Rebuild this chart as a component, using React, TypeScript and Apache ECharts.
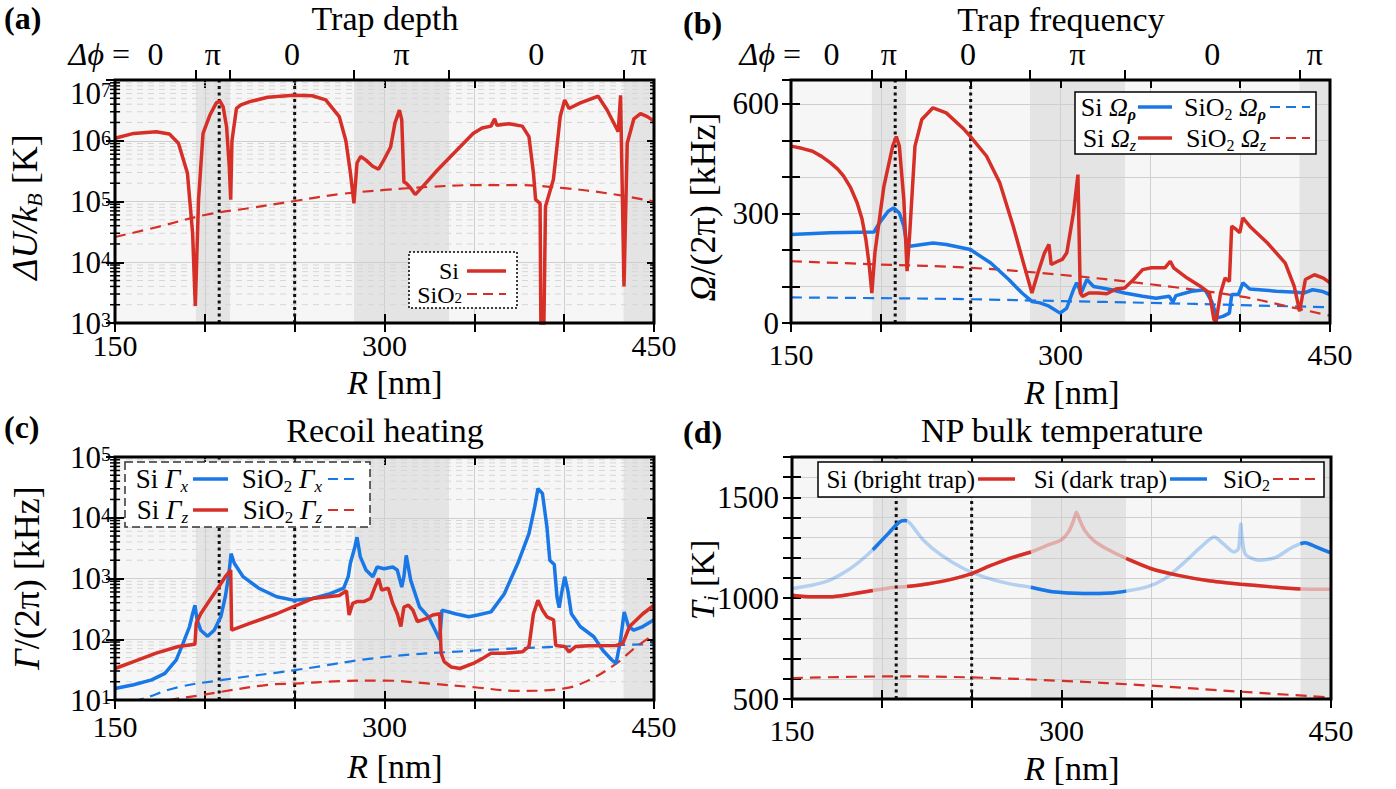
import React, { useEffect, useRef } from 'react';
import * as echarts from 'echarts';

const F = 'Liberation Serif';
const RED = '#d62f27';
const BLUE = '#1a78e6';
const LIGHT_BG = '#f6f6f6';
const DARK_BG = '#e4e4e4';
const GRID_C = '#cfcfcf';
const MINOR_C = '#d6d6d6';

// phase regions (Δφ) along R [nm]
const bandStart = [150, 195, 214, 283, 336, 433];
const bandEnd = [195, 214, 283, 336, 433, 450];
const bandShade = [0, 1, 0, 1, 0, 1];
const phaseBounds = [195, 214, 283, 336, 433];
const phaseCenters = [172.5, 204.5, 248.5, 309.5, 384.5, 441.5];
const phaseLabels = ['0', 'π', '0', 'π', '0', 'π'];
const dottedR = [208, 250];
const xTickLabels = [150, 300, 450];
const minorMult = [2, 3, 4, 5, 6, 7, 8, 9];

// (a) trap depth [K]
const aSi = [[150,1.1e6],[160.4,1.32e6],[172.9,1.41e6],[180.3,1.29e6],[185.3,9.1e5],[190.3,2.95e5],[193.2,3.0e4],[194.7,1.9e3],[196.5,1.07e5],[199,1.32e6],[202.7,2.6e6],[206.4,4.2e6],[208.4,4.5e6],[210.2,3.6e6],[212.1,1.7e6],[213.6,3.8e5],[214.4,1.07e5],[215.1,1.0e6],[217.6,3.4e6],[220.1,3.9e6],[225,4.4e6],[235,5.2e6],[249.4,5.6e6],[259.8,5.5e6],[267.3,4.7e6],[274.8,2.5e6],[278.5,1.0e6],[281,3.0e5],[283,9.3e4],[284.7,4.3e5],[286.7,5.5e5],[289.7,4.8e5],[293.4,3.8e5],[296.7,3.4e5],[299.6,4.8e5],[303.4,7.9e5],[305.8,1.95e6],[308.3,3.2e6],[309.6,2.2e6],[310.8,2.1e5],[312.1,2.0e5],[314.6,1.66e5],[317.1,1.3e5],[322,1.86e5],[329.5,3.3e5],[339.4,6.6e5],[349.3,1.32e6],[354.3,1.62e6],[359.3,1.74e6],[361.3,2.3e6],[362.5,1.8e6],[369.2,1.9e6],[376.7,1.74e6],[380.4,1.17e6],[382.9,2.95e5],[384.1,1.07e5],[386.6,9.3e4],[387.1,5e2],[388.6,5e2],[389.6,8.3e4],[394,2.3e5],[397.8,2.5e6],[400.3,4.7e6],[402.7,3.4e6],[409,4.2e6],[418.9,5.4e6],[423.9,3.2e6],[430.1,1.41e6],[431.4,5.6e6],[432.1,3.8e5],[433.3,4.0e3],[435.1,9.1e5],[438.8,2.3e6],[442.5,2.8e6],[446.3,2.5e6],[450,2.1e6]];
const aSiO2 = [[150,2.6e4],[175,3.9e4],[200,6.0e4],[225,7.8e4],[250,1.02e5],[275,1.32e5],[300,1.55e5],[325,1.74e5],[350,1.86e5],[375,1.86e5],[400,1.66e5],[425,1.35e5],[450,1.0e5]];

// (b) trap frequency [kHz]
const bSiZ = [[150,484],[156,478],[162,470],[167,456],[172,438],[176,421],[179.3,402],[183,372],[186.8,329],[189.5,285],[191.7,228],[193.5,160],[195,82],[196.7,192],[201.7,374],[206.6,484],[208.6,510],[210.3,484],[212.8,338],[214.6,142],[216.1,247],[219,484],[222.8,557],[229,589],[236.4,575],[246.3,530],[249.8,511],[258.8,457],[266.2,384],[273.7,265],[279.9,155],[284.1,82],[287.4,137],[291.1,192],[293.6,215],[294.8,160],[298.6,169],[301,174],[303.5,192],[307.2,301],[309.7,406],[311,82],[312.2,73],[315.9,82],[320.8,82],[325.8,80],[330.8,93],[335.7,96],[340.7,119],[345.7,146],[350.6,151],[358.1,151],[361.1,169],[363,151],[370.5,123],[378,100],[382.9,82],[385.4,9],[386.6,5],[389.1,82],[391.6,123],[394,114],[395.3,265],[397.8,256],[399.8,247],[401.5,288],[405.3,265],[415.2,219],[425.1,164],[430.1,100],[433.1,32],[436.3,119],[441.3,132],[446.3,123],[450,110]];
const bSiRho = [[150,242],[172,247],[196.2,249],[199.2,274],[204.1,306],[207.1,315],[210.3,301],[212.8,265],[214.6,210],[216.1,210],[229,219],[236.4,215],[249.8,201],[261.2,164],[271.2,119],[278.6,82],[284.1,59],[288.6,55],[293.6,46],[299.8,27],[303.5,41],[307.2,91],[309,110],[311.5,82],[314.7,119],[318.4,100],[323.3,96],[328.3,91],[335.7,82],[345.7,73],[353.2,68],[360.6,73],[362.5,57],[364.3,75],[373,87],[380.4,91],[384.1,59],[385.4,41],[387.4,14],[390.4,18],[394,27],[395.3,78],[399,78],[401.5,110],[405.3,93],[420.2,87],[431.4,84],[435.3,82],[440.3,91],[445.3,87],[450,78]];
const bSiO2Z = [[150,169],[200,160],[250,151],[300,132],[350,106],[400,73],[425,47],[450,20]];
const bSiO2Rho = [[150,70],[200,68],[250,65],[300,60],[350,55],[400,49],[450,43]];

// (c) recoil heating [kHz]
const cSiX = [[150,15.5],[160.4,17.8],[170.4,21.4],[177.8,27.5],[184.1,45.7],[187.8,85],[191.5,162],[193.2,263],[194.5,363],[195.7,209],[197.7,141],[201.5,112],[205.2,141],[208.9,234],[211.4,501],[213.4,1200],[214.6,2570],[216.4,1780],[221.3,1070],[230,692],[240,501],[249.9,437],[259.9,468],[269.8,562],[277.3,692],[279.8,1070],[281,1780],[283.5,3310],[284.7,4790],[286.5,2290],[289.7,1380],[293.5,1070],[295.9,1550],[299.7,1450],[304.6,1550],[307.1,1380],[309.6,724],[310.8,1070],[312.1,2400],[314.6,933],[319.5,339],[324.5,234],[328.2,141],[330.7,98],[332,302],[339.4,263],[346.9,234],[351.8,251],[359.3,282],[366.7,562],[374.2,1780],[380.4,5500],[383.6,15100],[385.4,30200],[387.9,25100],[390.4,7080],[392,2000],[394.5,1700],[396,500],[397.2,330],[398.5,562],[400.3,1070],[402,646],[404,263],[408.9,162],[416.5,110],[421.5,66],[426.4,46],[428.9,40],[431.4,98],[433.4,282],[435.8,162],[438.8,141],[443.8,162],[450,209]];
const cSiZ = [[150,33],[160.4,43],[172.9,59],[185.3,76],[194.5,83],[195.2,182],[197.7,263],[202.7,437],[207.7,724],[211.4,1070],[214.4,1380],[214.9,141],[225,182],[240,263],[259.9,468],[274.8,525],[278.8,630],[280.3,251],[282.3,389],[284.7,417],[288.5,417],[292.2,468],[294.7,724],[296.7,1000],[298.4,646],[302.1,692],[304.6,389],[307.1,263],[309.1,162],[310.8,339],[313.3,363],[315.8,302],[318.3,195],[323.2,219],[326.9,251],[330.7,263],[331.5,59],[333.2,43],[337,35],[342,33],[349.4,40],[354.4,48],[359.3,59],[366.7,59],[376.7,62],[380.4,76],[382.9,263],[385.4,437],[387.9,302],[390.4,234],[394.1,209],[395.3,79],[400.3,76],[402.7,62],[406.5,76],[413.9,78],[428.9,79],[432.6,85],[436.4,162],[443.8,263],[450,363]];
const cSiO2X = [[150,8.5],[163,10],[185,16.2],[210,21.4],[250,31],[300,51],[350,65],[400,76],[450,83]];
const cSiO2Z = [[150,7],[180,10],[197.7,12],[210,13.8],[235,17.8],[250,18.6],[275,20.4],[300,20.9],[325,18.6],[350,16.2],[374,14.1],[400,15.5],[414,21.4],[429,39.8],[439,70.8],[450,120]];

// (d) NP bulk temperature [K]
const dSiBright = [[150,1015],[161,1007],[171,1007],[183,1020],[195,1038],[206,1053],[214,1058],[226,1072],[238,1092],[250,1122],[260,1160],[270,1194],[283,1229],[293,1265],[300,1290],[304,1330],[306.5,1380],[308.3,1426],[310,1390],[313,1335],[318,1285],[325,1245],[336,1197],[350,1146],[365,1113],[382,1086],[400,1069],[417,1056],[433,1045],[450,1044]];
const dSiDark = [[150,1048],[161,1064],[171,1089],[181,1138],[188.5,1188],[195,1240],[203.4,1319],[209.7,1377],[212.9,1385],[214,1383],[216,1368],[223.3,1286],[233.3,1212],[245.7,1146],[258,1102],[270.6,1072],[283,1054],[295,1032],[312,1023],[328,1026],[336,1035],[347.6,1056],[357.6,1097],[367.6,1171],[377.5,1253],[385,1303],[390,1270],[396,1229],[398.5,1245],[399.3,1320],[399.8,1368],[400.5,1300],[402.5,1215],[410,1188],[419.7,1204],[427,1245],[433,1270],[435.5,1275],[442,1253],[450,1224]];
const dSiO2 = [[150,604],[208,612],[250,607],[300,590],[350,566],[400,536],[450,508]];
const brightRanges = [[150, 195], [214, 283], [336, 433]];
const darkRanges = [[195, 214], [283, 336], [433, 450]];

function maskTo(data: number[][], ranges: number[][]) {
  return data.map(([r, v]) => [r, ranges.some(([a, b]) => r >= a && r <= b) ? v : null]);
}

function rich(fs: number, lh?: number) {
  const L = lh || Math.round(fs * 1.15);
  const base = { fontFamily: F, fontSize: fs, lineHeight: L, fill: '#000', color: '#000' };
  const sf = Math.round(fs * 0.62);
  const sub = { fontFamily: F, fontSize: sf, lineHeight: sf, verticalAlign: 'bottom', fill: '#000', color: '#000' };
  return {
    r: base,
    i: { ...base, fontStyle: 'italic' },
    bb: { ...base, fontWeight: 'bold' },
    sub,
    isub: { ...sub, fontStyle: 'italic' },
    bisub: { ...sub, fontStyle: 'italic', fontWeight: 'bold' },
  };
}

function txt(x: number, y: number, text: string, fs: number, align = 'center', rotation = 0, lh?: number) {
  return {
    type: 'text', x, y, rotation, z: 40, silent: true,
    style: { text, rich: rich(fs, lh), fontFamily: F, fontSize: fs, fill: '#000', align, verticalAlign: 'middle', textAlign: align, textVerticalAlign: 'middle' },
  };
}
function seg(x1: number, y1: number, x2: number, y2: number, stroke: string, w: number, dash?: number[]) {
  const style: any = { stroke, lineWidth: w };
  if (dash) style.lineDash = dash;
  return { type: 'line', z: 40, silent: true, shape: { x1, y1, x2, y2 }, style };
}
function box(x: number, y: number, w: number, h: number, stroke: string, dash?: number[]) {
  const style: any = { fill: '#fff', stroke, lineWidth: 1.5 };
  if (dash) style.lineDash = dash;
  return { type: 'rect', z: 39, silent: true, shape: { x, y, width: w, height: h }, style };
}

function buildOption(): any {
  const grid: any[] = [];
  const xAxis: any[] = [];
  const yAxis: any[] = [];
  const series: any[] = [];
  const tickLS = { color: '#000', width: 2 };

  function addPanel(cfg: any) {
    const gi = grid.length;
    grid.push({ left: cfg.box[0], top: cfg.box[1], width: cfg.box[2], height: cfg.box[3], show: true, borderColor: '#000', borderWidth: 3, backgroundColor: 'rgba(0,0,0,0)', z: 50 });
    const xBase = { gridIndex: gi, type: 'value', min: 150, max: 450, interval: 50, z: 0, axisLine: { show: false }, splitLine: { show: false }, axisLabel: { show: false } };
    const xi = xAxis.length;
    xAxis.push({ ...xBase, position: 'bottom',
      axisTick: { show: true, inside: false, length: 9, lineStyle: tickLS },
      axisLabel: { show: true, formatter: (v: number) => (xTickLabels.includes(v) ? String(v) : ''), fontFamily: F, fontSize: 30, color: '#000', margin: cfg.xMargin },
      splitLine: { show: true, lineStyle: { color: GRID_C, width: 1 } } });
    xAxis.push({ ...xBase, position: 'bottom', axisTick: { show: true, inside: true, length: 9, lineStyle: tickLS } });
    xAxis.push({ ...xBase, position: 'top', axisTick: { show: true, inside: true, length: 8, lineStyle: tickLS } });
    if (cfg.phase) {
      xAxis.push({ gridIndex: gi, type: 'value', min: 150, max: 450, position: 'top', z: 0, axisLine: { show: false }, splitLine: { show: false },
        axisTick: { show: true, inside: false, length: 10, customValues: phaseBounds, lineStyle: tickLS },
        axisLabel: { show: true, customValues: phaseCenters, formatter: (v: number) => { const k = phaseCenters.indexOf(v); return k >= 0 ? phaseLabels[k] : ''; }, fontFamily: F, fontSize: 32, color: '#000', margin: 10 } });
    }
    const yi = yAxis.length;
    const scale = cfg.log ? { type: 'log', logBase: 10, min: cfg.yMin, max: cfg.yMax } : { type: 'value', min: cfg.yMin, max: cfg.yMax, interval: 100 };
    const yBase = { gridIndex: gi, ...scale, z: 0, axisLine: { show: false }, splitLine: { show: false }, axisLabel: { show: false } };
    const yLabel: any = cfg.log
      ? { show: true, margin: 4, formatter: (v: number) => `{b|10}{s|${Math.round(Math.log10(v))}}`,
          rich: { b: { fontFamily: F, fontSize: 31, lineHeight: 26, color: '#000' }, s: { fontFamily: F, fontSize: 20, lineHeight: 16, verticalAlign: 'top', color: '#000' } } }
      : { show: true, margin: cfg.yMargin, formatter: (v: number) => (cfg.yLabels.includes(v) ? String(v) : ''), fontFamily: F, fontSize: 31, color: '#000' };
    if (cfg.edgeAlign) { yLabel.verticalAlignMaxLabel = 'top'; yLabel.verticalAlignMinLabel = 'bottom'; }
    yAxis.push({ ...yBase, position: 'left', axisTick: { show: true, inside: false, length: 9, lineStyle: tickLS }, axisLabel: yLabel, splitLine: { show: true, lineStyle: { color: GRID_C, width: 1 } } });
    yAxis.push({ ...yBase, position: 'left', axisTick: { show: true, inside: true, length: 9, lineStyle: tickLS } });
    if (cfg.log) yAxis.push({ ...yBase, position: 'right', axisTick: { show: true, inside: true, length: 7, lineStyle: tickLS } });

    const ax = { xAxisIndex: xi, yAxisIndex: yi };
    const yMin = cfg.yMin, yMax = cfg.yMax;
    series.push({ type: 'custom', ...ax, z: -5, silent: true, clip: false,
      data: bandStart.map((s, i) => [s, yMin, bandEnd[i], bandShade[i]]),
      renderItem: (_p: any, api: any) => {
        const a = api.coord([api.value(0), yMax]);
        const b = api.coord([api.value(2), yMin]);
        return { type: 'rect', shape: { x: a[0], y: a[1], width: b[0] - a[0], height: b[1] - a[1] }, style: { fill: api.value(3) ? DARK_BG : LIGHT_BG } };
      } });
    if (cfg.log) {
      const minors: number[][] = [];
      const e0 = Math.round(Math.log10(yMin)), e1 = Math.round(Math.log10(yMax));
      for (let e = e0; e < e1; e++) for (const m of minorMult) minors.push([150, m * Math.pow(10, e)]);
      series.push({ type: 'custom', ...ax, z: 1, silent: true, clip: false, data: minors,
        renderItem: (_p: any, api: any) => {
          const v = api.value(1);
          const p1 = api.coord([150, v]);
          const p2 = api.coord([450, v]);
          return { type: 'group', children: [
            { type: 'line', shape: { x1: p1[0], y1: p1[1], x2: p2[0], y2: p2[1] }, style: { stroke: MINOR_C, lineWidth: 1, lineDash: [6, 5] } },
            { type: 'line', shape: { x1: p1[0] - 5, y1: p1[1], x2: p1[0] + 5, y2: p1[1] }, style: { stroke: '#000', lineWidth: 1.5 } },
            { type: 'line', shape: { x1: p2[0] - 4, y1: p2[1], x2: p2[0], y2: p2[1] }, style: { stroke: '#000', lineWidth: 1.5 } },
          ] };
        } });
    }
    series.push({ type: 'custom', ...ax, z: 2, silent: true, clip: false, data: dottedR.map((r) => [r, yMin]),
      renderItem: (_p: any, api: any) => {
        const r = api.value(0);
        const a = api.coord([r, yMin]);
        const b = api.coord([r, yMax]);
        return { type: 'line', shape: { x1: a[0], y1: a[1], x2: b[0], y2: b[1] }, style: { stroke: '#111', lineWidth: 3, lineDash: [3, 3.5] } };
      } });
    return ax;
  }

  function addLine(ax: any, data: any[], color: string, width: number, dash: boolean, z = 4, opacity = 1, smooth = 0) {
    const s: any = { type: 'line', ...ax, data, z, silent: true, showSymbol: false, symbol: 'none', connectNulls: false, clip: true,
      emphasis: { disabled: true }, lineStyle: { color, width, type: dash ? [11, 7] : 'solid', opacity } };
    if (smooth) s.smooth = smooth;
    series.push(s);
  }

  const pa = addPanel({ box: [115, 80, 539, 243], log: true, yMin: 1e3, yMax: 1e7, phase: true, xMargin: 7, edgeAlign: true });
  addLine(pa, aSiO2, RED, 2.2, true, 4, 1, 0.4);
  addLine(pa, aSi, RED, 3.5, false, 5);

  const pb = addPanel({ box: [791, 80, 539, 243], log: false, yMin: 0, yMax: 665, yLabels: [0, 300, 600], yMargin: 12, phase: true, xMargin: 16 });
  addLine(pb, bSiO2Rho, BLUE, 2.2, true, 4, 1, 0.4);
  addLine(pb, bSiO2Z, RED, 2.2, true, 4, 1, 0.4);
  addLine(pb, bSiRho, BLUE, 3.5, false, 5);
  addLine(pb, bSiZ, RED, 3.5, false, 6);

  const pc = addPanel({ box: [115, 457, 539, 243], log: true, yMin: 10, yMax: 1e5, phase: false, xMargin: 11 });
  addLine(pc, cSiO2X, BLUE, 2.2, true, 4, 1, 0.4);
  addLine(pc, cSiO2Z, RED, 2.2, true, 4, 1, 0.4);
  addLine(pc, cSiX, BLUE, 3.5, false, 5);
  addLine(pc, cSiZ, RED, 3.5, false, 6);

  const pd = addPanel({ box: [792, 457, 539, 242], log: false, yMin: 500, yMax: 1700, yLabels: [500, 1000, 1500], yMargin: 13, phase: false, xMargin: 16 });
  addLine(pd, dSiO2, RED, 2.2, true, 4, 1, 0.4);
  addLine(pd, dSiDark, BLUE, 3.5, false, 4, 0.3, 0.25);
  addLine(pd, dSiBright, RED, 3.5, false, 4, 0.3, 0.25);
  addLine(pd, maskTo(dSiDark, darkRanges), BLUE, 3.5, false, 5, 1, 0.25);
  addLine(pd, maskTo(dSiBright, brightRanges), RED, 3.5, false, 6, 1, 0.25);

  const G: any[] = [];
  // panel letters and titles
  G.push(txt(4, 18, '{bb|(a)}', 32, 'left', 0, 30));
  G.push(txt(683, 23, '{bb|(b)}', 32, 'left', 0, 30));
  G.push(txt(4, 427, '{bb|(c)}', 32, 'left', 0, 30));
  G.push(txt(683, 432, '{bb|(d)}', 32, 'left', 0, 30));
  G.push(txt(385, 18, '{r|Trap depth}', 34, 'center', 0, 30));
  G.push(txt(1061, 19, '{r|Trap frequency}', 34, 'center', 0, 30));
  G.push(txt(385, 430, '{r|Recoil heating}', 34, 'center', 0, 30));
  G.push(txt(1062, 430, '{r|NP bulk temperature}', 34, 'center', 0, 30));
  // Δφ row
  G.push(txt(130, 54, '{i|Δϕ}{r| =}', 32, 'right', 0, 30));
  G.push(txt(801, 54, '{i|Δϕ}{r| =}', 32, 'right', 0, 30));
  // x names
  G.push(txt(395, 382, '{i|R}{r| [nm]}', 34, 'center', 0, 26));
  G.push(txt(1072, 392, '{i|R}{r| [nm]}', 34, 'center', 0, 26));
  G.push(txt(395, 766, '{i|R}{r| [nm]}', 34, 'center', 0, 26));
  G.push(txt(1072, 768, '{i|R}{r| [nm]}', 34, 'center', 0, 26));
  // y names
  G.push(txt(25, 207, '{i|ΔU/k}{isub|B}{r| [K]}', 36, 'center', Math.PI / 2));
  G.push(txt(703, 207, '{i|Ω}{r|/(2π) [kHz]}', 36, 'center', Math.PI / 2));
  G.push(txt(27, 578, '{i|Γ}{r|/(2π) [kHz]}', 36, 'center', Math.PI / 2));
  G.push(txt(702, 580, '{i|T}{isub|i}{r| [K]}', 34, 'center', Math.PI / 2));

  // legend (a)
  G.push(box(409, 252, 108, 56, '#000', [2, 2]));
  G.push(txt(459, 270.5, '{r|Si}', 24, 'right', 0, 22));
  G.push(seg(467, 271, 506, 271, RED, 3.5));
  G.push(txt(462, 294.5, '{r|SiO}{sub|2}', 24, 'right', 0, 22));
  G.push(seg(467, 294, 506, 294, RED, 2.2, [10, 6]));
  // legend (b)
  G.push(box(1075, 92, 241, 62, '#000'));
  G.push(txt(1136, 107, '{r|Si }{i|Ω}{bisub|ρ}', 26, 'right'));
  G.push(seg(1138, 107, 1172, 107, BLUE, 3.5));
  G.push(txt(1266, 107, '{r|SiO}{sub|2}{r| }{i|Ω}{bisub|ρ}', 26, 'right'));
  G.push(seg(1270, 107, 1310, 107, BLUE, 2.2, [10, 6]));
  G.push(txt(1136, 138, '{r|Si }{i|Ω}{isub|z}', 26, 'right'));
  G.push(seg(1138, 138, 1172, 138, RED, 3.5));
  G.push(txt(1266, 138, '{r|SiO}{sub|2}{r| }{i|Ω}{isub|z}', 26, 'right'));
  G.push(seg(1270, 138, 1310, 138, RED, 2.2, [10, 6]));
  // legend (c)
  G.push(box(125, 462, 245, 65, '#333', [8, 4]));
  G.push(txt(188, 479, '{r|Si }{i|Γ}{isub|x}', 27, 'right'));
  G.push(seg(193, 479, 228, 479, BLUE, 3.5));
  G.push(txt(322, 479, '{r|SiO}{sub|2}{r| }{i|Γ}{isub|x}', 27, 'right'));
  G.push(seg(328, 479, 359, 479, BLUE, 2.2, [10, 6]));
  G.push(txt(188, 510, '{r|Si }{i|Γ}{isub|z}', 27, 'right'));
  G.push(seg(193, 510, 228, 510, RED, 3.5));
  G.push(txt(322, 510, '{r|SiO}{sub|2}{r| }{i|Γ}{isub|z}', 27, 'right'));
  G.push(seg(328, 510, 359, 510, RED, 2.2, [10, 6]));
  // legend (d)
  G.push(box(818, 462, 506, 35, '#000'));
  G.push(txt(975, 479, '{r|Si (bright trap)}', 25, 'right'));
  G.push(seg(978, 479, 1015, 479, RED, 3.5));
  G.push(txt(1167, 479, '{r|Si (dark trap)}', 25, 'right'));
  G.push(seg(1170, 479, 1207, 479, BLUE, 3.5));
  G.push(txt(1270, 479, '{r|SiO}{sub|2}', 25, 'right'));
  G.push(seg(1273, 479, 1319, 479, RED, 2.2, [10, 6]));

  return {
    animation: false,
    backgroundColor: '#fff',
    textStyle: { fontFamily: F },
    grid, xAxis, yAxis, series,
    graphic: { elements: G },
  };
}

export default function App() {
  const ref = useRef<HTMLDivElement>(null);
  useEffect(() => {
    document.body.style.margin = '0';
    const chart = echarts.init(ref.current as HTMLDivElement, undefined, { renderer: 'svg', width: 1396, height: 789 });
    chart.setOption(buildOption());
    return () => chart.dispose();
  }, []);
  return <div ref={ref} style={{ width: 1396, height: 789, background: '#fff' }} />;
}
